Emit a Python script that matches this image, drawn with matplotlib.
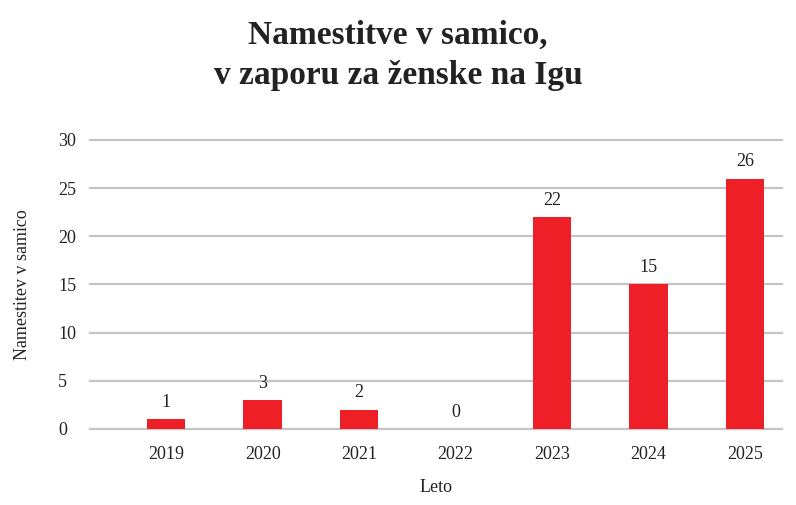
import matplotlib
matplotlib.use("Agg")
import matplotlib.pyplot as plt

# data
years = ["2019", "2020", "2021", "2022", "2023", "2024", "2025"]
counts = [1, 3, 2, 0, 22, 15, 26]
yticks = [0, 5, 10, 15, 20, 25, 30]

plt.rcParams["font.family"] = ["Liberation Serif", "DejaVu Serif"]

fig = plt.figure(figsize=(7.96, 5.05), dpi=100)
ax = fig.add_axes([0.113, 0.1505, 0.869, 0.5723])

x = range(len(years))
bars = ax.bar(x, counts, width=0.40, color="#ee1f27", zorder=3)

for xi, v in zip(x, counts):
    ax.annotate(str(v), (xi, v), xytext=(0, 6), textcoords="offset points",
                ha="center", va="bottom", fontsize=13, color="#222222")

ax.set_xlim(-0.79, 6.38)
ax.set_ylim(0, 30)
ax.set_yticks(yticks)
ax.set_xticks(list(x))
ax.set_xticklabels(years)
ax.yaxis.grid(True, color="#c4c4c4", linewidth=1.6, zorder=0)
for gl in ax.get_ygridlines():
    gl.set_clip_on(False)
for s in ax.spines.values():
    s.set_visible(False)
ax.tick_params(axis="both", length=0, labelsize=13, colors="#222222")
ax.tick_params(axis="x", pad=12)
ax.tick_params(axis="y", pad=23)
for lbl in ax.get_yticklabels():
    lbl.set_horizontalalignment("left")

ax.set_xlabel("Leto", fontsize=13, color="#222222", labelpad=12)
ax.set_ylabel("Namestitev v samico", fontsize=13, color="#222222",
              va="center")
ax.yaxis.set_label_coords(-0.098, 0.5)

fig.text(0.5, 0.89, "Namestitve v samico,\nv zaporu za ženske na Igu",
         ha="center", va="center", fontsize=24, fontweight="bold",
         color="#222222", linespacing=1.38)

fig.savefig("out.png", dpi=100)
